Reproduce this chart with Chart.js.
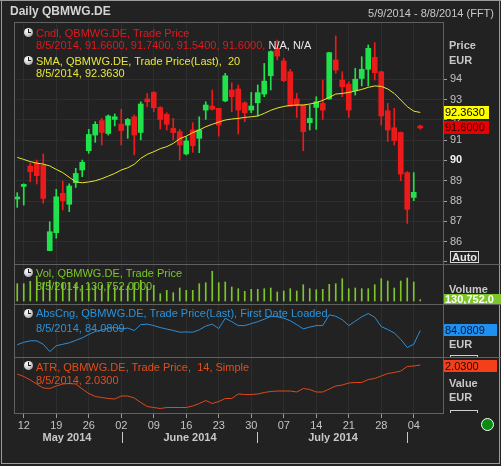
<!DOCTYPE html>
<html><head><meta charset="utf-8">
<script src="https://cdn.jsdelivr.net/npm/chart.js@4.4.1/dist/chart.umd.min.js"></script>
<style>
*{box-sizing:border-box}
html,body{margin:0;padding:0;background:#222222}
body{width:501px;height:466px;position:relative;overflow:hidden;font-family:"Liberation Sans",Arial,sans-serif;font-size:11px}
canvas{position:absolute;left:0;top:0}
.t{position:absolute;white-space:nowrap;line-height:13px;height:13px}
.b{font-weight:bold}
.ln{position:absolute;background:#606060}
.clk{position:absolute;width:9px;height:9px;border-radius:50%;background:radial-gradient(circle at 35% 30%,#ffffff 0%,#d4d8dc 45%,#7a8088 100%)}
.clk:before{content:"";position:absolute;left:4px;top:1px;width:1px;height:4px;background:#1a1a1a}
.clk:after{content:"";position:absolute;left:4px;top:4px;width:3px;height:1px;background:#1a1a1a}
.box{position:absolute;height:13px;line-height:13px;padding-left:1px;overflow:hidden;white-space:nowrap}
.sep{position:absolute;width:1px;background:#c8c8c8}
</style></head><body>
<canvas id="cMain" width="501" height="466"></canvas>
<canvas id="cVol" width="501" height="466"></canvas>
<canvas id="cAbs" width="501" height="466"></canvas>
<canvas id="cAtr" width="501" height="466"></canvas>

<!-- frames -->
<div class="ln" style="left:0;top:0;width:501px;height:1px;background:#9a9a9a"></div>
<div class="ln" style="left:1px;top:0;width:1px;height:464px;background:#9a9a9a"></div>
<div class="ln" style="left:499px;top:0;width:1px;height:464px;background:#9a9a9a"></div>
<div class="ln" style="left:1px;top:463px;width:499px;height:1px;background:#9a9a9a"></div>

<div class="ln" style="left:14px;top:22px;width:430px;height:1px"></div>
<div class="ln" style="left:14px;top:22px;width:1px;height:392px"></div>
<div class="ln" style="left:443px;top:22px;width:1px;height:392px"></div>
<div class="ln" style="left:14px;top:264px;width:487px;height:1px"></div>
<div class="ln" style="left:14px;top:304px;width:487px;height:1px"></div>
<div class="ln" style="left:14px;top:357px;width:487px;height:1px"></div>
<div class="ln" style="left:14px;top:413px;width:430px;height:1px"></div>

<!-- header -->
<div class="t b" style="left:10px;top:5px;font-size:12px;color:#d4d4d4">Daily QBMWG.DE</div>
<div class="t" style="right:7px;top:7px;color:#c8c8c8">5/9/2014 - 8/8/2014 (FFT)</div>

<!-- main legend -->
<div class="clk" style="left:24px;top:28px"></div>
<div class="t" style="left:36px;top:27px;color:#e0191e">Cndl, QBMWG.DE, Trade Price</div>
<div class="t" style="left:36px;top:39px;color:#e0191e">8/5/2014, 91.6600, 91.7400, 91.5400, 91.6000, <span style="color:#e8e8e8">N/A, N/A</span></div>
<div class="clk" style="left:24px;top:56px"></div>
<div class="t" style="left:36px;top:55px;color:#e6e63a">SMA, QBMWG.DE, Trade Price(Last), &nbsp;20</div>
<div class="t" style="left:36px;top:67px;color:#e6e63a">8/5/2014, 92.3630</div>

<!-- volume legend -->
<div class="clk" style="left:24px;top:268px"></div>
<div class="t" style="left:36px;top:267px;color:#7cc62a">Vol, QBMWG.DE, Trade Price</div>
<div class="t" style="left:36px;top:280px;color:#7cc62a">8/5/2014, 130,752.0000</div>

<!-- abs legend -->
<div class="clk" style="left:24px;top:309px"></div>
<div class="t" style="left:36px;top:307px;color:#2b93dc">AbsCng, QBMWG.DE, Trade Price(Last), First Date Loaded</div>
<div class="t" style="left:36px;top:322px;color:#2b93dc">8/5/2014, 84.0809</div>

<!-- atr legend -->
<div class="clk" style="left:24px;top:361px"></div>
<div class="t" style="left:36px;top:361px;color:#e24e1c">ATR, QBMWG.DE, Trade Price, &nbsp;14, Simple</div>
<div class="t" style="left:36px;top:374px;color:#e24e1c">8/5/2014, 2.0300</div>

<!-- right column -->
<div class="t b" style="left:449px;top:39px;color:#c8c8c8">Price</div>
<div class="t b" style="left:449px;top:54px;color:#c8c8c8">EUR</div>
<div class="box" style="left:444px;top:106px;width:45px;background:#ffff00;color:#000">92.3630</div>
<div class="box" style="left:444px;top:121px;width:45px;background:#e80000;color:#200000">91.6000</div>
<div class="t b" style="left:450px;top:251px;width:29px;height:12px;line-height:10px;border:1px solid #d8d8d8;color:#e8e8e8;padding-left:1px">Auto</div>

<div class="t b" style="left:449px;top:283px;color:#c8c8c8">Volume</div>
<div class="box b" style="left:444px;top:294px;width:57px;height:10px;line-height:10px;background:#7cc62a;color:#ffffff">130,752.0</div>

<div class="box" style="left:444px;top:324px;width:53px;height:12px;line-height:12px;background:#1f90f0;color:#081838">84.0809</div>
<div class="t b" style="left:449px;top:338px;color:#c8c8c8">EUR</div>
<div class="ln" style="left:450px;top:355px;width:28px;height:2px;background:transparent;border:1px solid #d0d0d0;border-bottom:none"></div>

<div class="box" style="left:444px;top:360px;width:53px;height:12px;line-height:12px;background:#f4401a;color:#200800">2.0300</div>
<div class="t b" style="left:449px;top:377px;color:#c8c8c8">Value</div>
<div class="t b" style="left:449px;top:391px;color:#c8c8c8">EUR</div>
<div class="ln" style="left:450px;top:410px;width:28px;height:3px;background:transparent;border:1px solid #d0d0d0;border-bottom:none"></div>

<!-- month row -->
<div class="t b" style="left:17px;width:100px;text-align:center;top:431px;color:#c8c8c8">May 2014</div>
<div class="t b" style="left:140px;width:100px;text-align:center;top:431px;color:#c8c8c8">June 2014</div>
<div class="t b" style="left:283px;width:100px;text-align:center;top:431px;color:#c8c8c8">July 2014</div>
<div class="sep" style="left:122px;top:432px;height:11px"></div>
<div class="sep" style="left:257px;top:432px;height:11px"></div>
<div class="sep" style="left:407px;top:432px;height:11px"></div>

<div style="position:absolute;left:481px;top:418px;width:13px;height:13px;border-radius:50%;background:#0c8a16;border:1.5px solid #ffffff"></div>

<script>
// ---- data ----
const dates = [
 '2014-05-09','2014-05-12','2014-05-13','2014-05-14','2014-05-15','2014-05-16',
 '2014-05-19','2014-05-20','2014-05-21','2014-05-22','2014-05-23',
 '2014-05-26','2014-05-27','2014-05-28','2014-05-29','2014-05-30',
 '2014-06-02','2014-06-03','2014-06-04','2014-06-05','2014-06-06',
 '2014-06-09','2014-06-10','2014-06-11','2014-06-12','2014-06-13',
 '2014-06-16','2014-06-17','2014-06-18','2014-06-19','2014-06-20',
 '2014-06-23','2014-06-24','2014-06-25','2014-06-26','2014-06-27',
 '2014-06-30','2014-07-01','2014-07-02','2014-07-03','2014-07-04',
 '2014-07-07','2014-07-08','2014-07-09','2014-07-10','2014-07-11',
 '2014-07-14','2014-07-15','2014-07-16','2014-07-17','2014-07-18',
 '2014-07-21','2014-07-22','2014-07-23','2014-07-24','2014-07-25',
 '2014-07-28','2014-07-29','2014-07-30','2014-07-31','2014-08-01',
 '2014-08-04','2014-08-05','2014-08-06','2014-08-07','2014-08-08'
];
const opens = [88.10,88.72,89.72,89.86,89.77,85.56,86.44,88.38,87.84,88.90,89.53,
 90.48,91.25,91.96,91.33,92.02,91.79,91.74,92.15,91.38,93.03,
 93.35,92.61,92.27,91.58,91.42,90.32,91.50,91.09,92.48,92.68,
 92.57,92.93,93.47,93.52,92.84,92.48,92.84,93.27,94.17,95.52,
 94.90,94.37,93.03,92.73,91.86,92.61,92.81,93.03,94.95,93.96,
 93.76,93.44,94.04,94.49,95.08,94.37,92.45,91.61,91.38,89.40,88.18,91.66];
const highs = [88.41,88.85,89.86,90.02,90.32,86.98,88.58,88.99,88.85,89.61,90.02,
 91.53,91.91,92.07,92.24,92.29,92.52,92.07,92.24,92.89,93.30,
 93.39,92.65,92.35,92.07,91.53,91.17,91.86,92.15,92.89,93.47,
 92.57,94.29,93.83,93.72,92.89,93.35,93.72,94.78,95.40,95.93,
 95.03,94.49,93.30,92.73,92.73,93.14,93.96,95.33,96.13,94.37,
 93.88,94.54,95.11,95.69,95.80,94.40,92.81,92.57,91.40,89.45,89.40,91.74];
const lows = [87.69,87.80,88.95,88.84,87.89,85.55,86.17,87.56,87.48,88.67,89.20,
 90.35,90.89,90.76,91.25,91.70,90.76,91.09,90.27,91.01,92.65,
 92.40,91.55,91.50,91.01,90.02,90.27,90.40,90.38,92.02,92.48,
 91.20,92.89,92.40,91.30,91.91,92.35,92.19,93.14,93.47,94.95,
 93.88,92.65,92.12,90.48,91.50,91.53,92.02,93.01,94.29,93.14,
 92.12,93.22,93.67,93.67,93.96,91.74,90.93,90.76,89.00,86.90,88.02,91.54];
const closes = [88.18,88.82,89.45,89.25,88.13,86.49,88.21,88.02,88.74,89.36,89.91,
 91.28,91.78,91.38,92.19,92.15,91.47,92.02,91.25,92.78,92.89,
 92.60,92.02,91.78,91.37,90.76,90.96,90.73,91.50,92.73,92.52,
 91.74,94.17,93.14,92.48,92.35,92.68,93.34,93.91,95.36,95.14,
 93.93,92.68,92.73,91.42,92.07,92.89,92.48,95.31,94.45,93.63,
 92.48,94.00,94.49,95.52,94.32,92.19,91.50,90.98,89.33,87.59,88.43,91.60];
const sma20 = [90.15,90.05,89.94,89.87,89.82,89.73,89.56,89.40,89.17,88.95,88.90,
 88.94,89.00,89.10,89.23,89.36,89.53,89.64,89.81,90.10,90.30,
 90.43,90.58,90.68,90.84,91.07,91.20,91.37,91.50,91.66,91.78,
 91.89,91.99,92.04,92.07,92.12,92.15,92.19,92.32,92.47,92.58,
 92.66,92.71,92.73,92.73,92.78,92.84,92.96,93.11,93.27,93.30,
 93.35,93.42,93.50,93.60,93.67,93.65,93.52,93.30,92.98,92.65,92.43,92.363];
const volumes = [1730000,1730000,1970000,2500000,1830000,2070000,1900000,1830000,1830000,1730000,1570000,
 1730000,1500000,1570000,1730000,1400000,1500000,1500000,1830000,2070000,1400000,
 1570000,730000,1070000,830000,1300000,1070000,1070000,1730000,1830000,2970000,
 1830000,1900000,1400000,1230000,970000,1170000,1170000,1230000,1300000,900000,
 1000000,1230000,1000000,1630000,1230000,1130000,1170000,1670000,1730000,2230000,
 1230000,1300000,1230000,1230000,1630000,2230000,2000000,1300000,2000000,2300000,1900000,130752];
const absChange = [80.67,81.26,81.61,81.61,80.79,79.03,80.44,80.79,81.14,81.73,82.32,
 83.14,83.85,84.20,84.67,84.79,84.43,84.67,84.08,85.49,85.61,
 85.26,84.79,84.43,84.08,83.68,83.73,83.68,84.24,85.14,85.61,
 84.55,87.02,86.20,85.26,85.26,85.73,86.20,86.78,87.49,87.37,
 87.02,86.43,85.49,84.48,84.90,85.26,85.26,87.84,87.49,86.67,
 85.26,86.31,87.37,88.15,87.25,85.02,84.32,83.49,81.97,80.01,80.79,84.0809];
const atr14 = [1.85,1.80,1.73,1.65,1.57,1.56,1.61,1.65,1.66,1.65,1.55,
 1.46,1.40,1.38,1.36,1.35,1.41,1.41,1.37,1.28,1.20,
 1.18,1.16,1.18,1.18,1.18,1.18,1.21,1.26,1.32,1.26,
 1.30,1.36,1.36,1.45,1.44,1.44,1.45,1.48,1.50,1.51,
 1.51,1.51,1.49,1.56,1.54,1.49,1.49,1.55,1.61,1.63,
 1.67,1.68,1.68,1.74,1.76,1.81,1.86,1.88,1.91,2.00,2.01,2.03];
const priceTicks = [85,86,87,88,89,90,91,92,93,94];

// ---- styling ----
const FONT = '"Liberation Sans", Arial, sans-serif';
Chart.defaults.font.family = FONT;
const GRID = '#2e2e2e';
const UP = '#20e24c', DOWN = '#ec1a1a';
const CLEAR = 'rgba(0,0,0,0)';
const isMonday = i => { const d = dates[i]; return !!d && new Date(d + 'T00:00:00Z').getUTCDay() === 1; };
const candleColor = opens.map((o, i) => closes[i] >= o ? UP : DOWN);

function xAxis(showLabels) {
  return {
    type: 'category', offset: true,
    border: { display: false },
    grid: { offset: false, color: c => isMonday(c.index) ? GRID : CLEAR, drawTicks: showLabels, tickLength: 4,
            tickColor: c => isMonday(c.index) ? '#9a9a9a' : CLEAR },
    ticks: { display: showLabels, autoSkip: false, maxRotation: 0, minRotation: 0, padding: 1, color: '#c4c4c4',
             font: { family: FONT, size: 11 },
             callback: (v, i) => isMonday(i) ? dates[i].slice(8, 10) : '' },
    afterFit: s => { s.height = showLabels ? 52 : 0; s.paddingLeft = 0; s.paddingRight = 0; s.paddingTop = 0; s.paddingBottom = 0; }
  };
}
function baseOptions(padding, scales) {
  return {
    responsive: false, animation: false, devicePixelRatio: 1, events: [],
    layout: { padding },
    plugins: { legend: { display: false }, tooltip: { enabled: false } },
    scales
  };
}

// main price chart
new Chart(document.getElementById('cMain'), {
  type: 'bar',
  data: {
    labels: dates,
    datasets: [
      { type: 'line', data: sma20, borderColor: '#e8e82a', borderWidth: 1, pointRadius: 0, tension: 0, order: 0 },
      { type: 'bar', data: opens.map((o, i) => [o, closes[i]]), backgroundColor: candleColor, barThickness: 5, grouped: false, minBarLength: 2, order: 1 },
      { type: 'bar', data: lows.map((l, i) => [l, highs[i]]), backgroundColor: candleColor, barThickness: 1, grouped: false, order: 2 }
    ]
  },
  options: baseOptions({ left: 14, top: 23, right: 0, bottom: 201 }, {
    x: xAxis(false),
    y: {
      position: 'right', min: 84.85, max: 96.77,
      afterBuildTicks: s => { s.ticks = priceTicks.map(v => ({ value: v })); },
      border: { display: false },
      grid: { color: GRID, drawTicks: true, tickLength: 4, tickColor: '#a0a0a0' },
      ticks: {
        padding: 3,
        color: c => (c.tick && c.tick.value === 90) ? '#f2f2f2' : '#c0c0c0',
        font: c => ({ family: FONT, size: 11, weight: (c.tick && c.tick.value === 90) ? 'bold' : 'normal' }),
        callback: v => v === 85 ? '' : String(v)
      },
      afterFit: s => { s.width = 58; s.paddingTop = 0; s.paddingBottom = 0; }
    }
  })
});

// volume
new Chart(document.getElementById('cVol'), {
  type: 'bar',
  data: { labels: dates, datasets: [
    { data: volumes, backgroundColor: '#7cc62a', barThickness: 1, grouped: false }
  ]},
  options: baseOptions({ left: 14, top: 265, right: 58, bottom: 162 }, {
    x: xAxis(false),
    y: { display: false, min: -300000, max: 3600000 }
  })
});

// absolute change
new Chart(document.getElementById('cAbs'), {
  type: 'line',
  data: { labels: dates, datasets: [
    { data: absChange, borderColor: '#2d8fd8', borderWidth: 1, pointRadius: 0, tension: 0 }
  ]},
  options: baseOptions({ left: 14, top: 305, right: 58, bottom: 108 }, {
    x: xAxis(false),
    y: { display: false, min: 77.50, max: 90.19 }
  })
});

// ATR
new Chart(document.getElementById('cAtr'), {
  type: 'line',
  data: { labels: dates, datasets: [
    { data: atr14, borderColor: '#de4a1a', borderWidth: 1, pointRadius: 0, tension: 0 }
  ]},
  options: baseOptions({ left: 14, top: 358, right: 58, bottom: 0 }, {
    x: xAxis(true),
    y: { display: false, min: 1.05, max: 2.17 }
  })
});
</script>
</body></html>
